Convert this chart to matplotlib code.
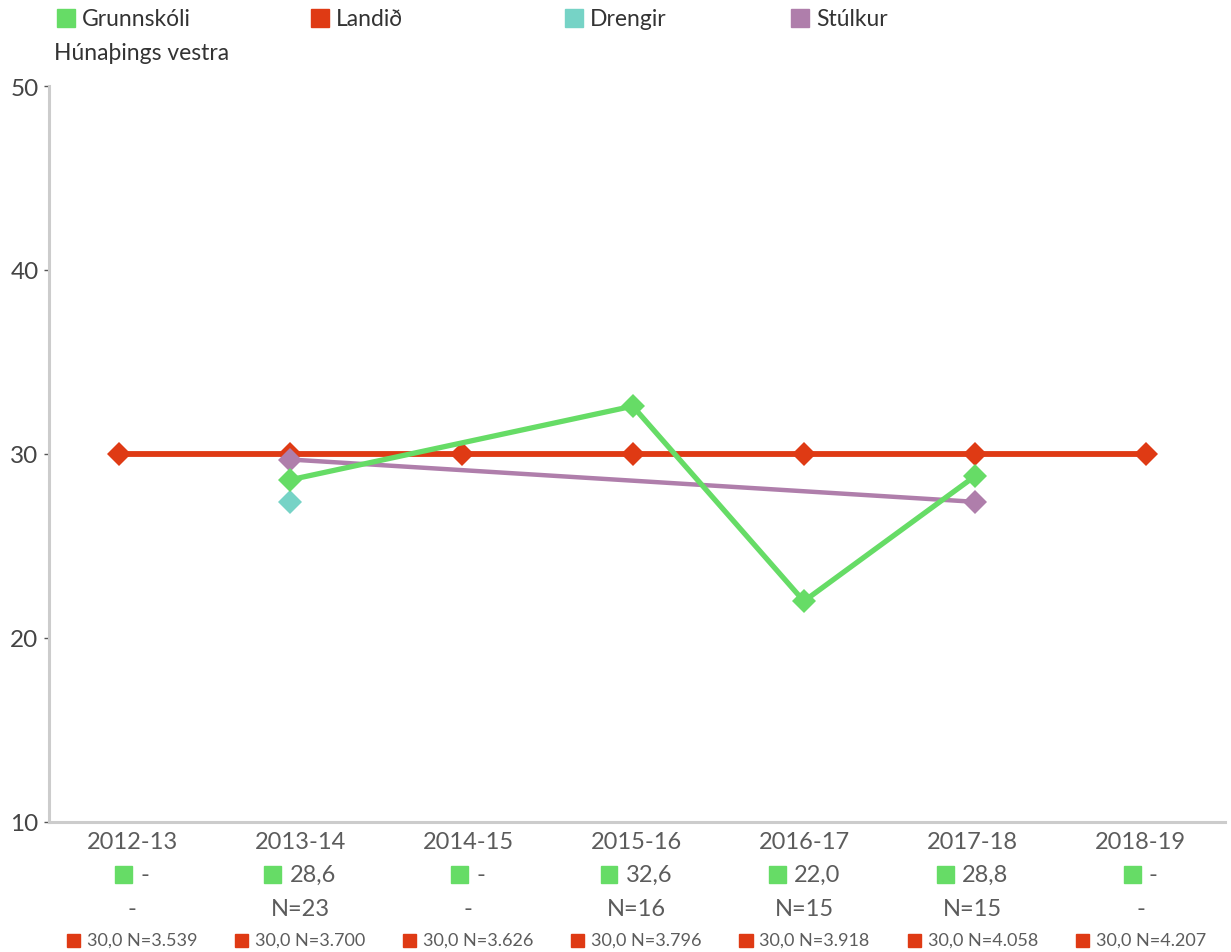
import matplotlib
matplotlib.use("Agg")
import matplotlib.pyplot as plt
import matplotlib.patches as patches
from matplotlib.offsetbox import AnnotationBbox, HPacker, TextArea, DrawingArea
import numpy as np

# --- data ---------------------------------------------------------------
years = ["2012-13", "2013-14", "2014-15", "2015-16", "2016-17", "2017-18", "2018-19"]
skoli = [np.nan, 28.6, np.nan, 32.6, 22.0, 28.8, np.nan]
landid = [30.0, 30.0, 30.0, 30.0, 30.0, 30.0, 30.0]
drengir = [np.nan, 27.4, np.nan, np.nan, np.nan, np.nan, np.nan]
stulkur = [np.nan, 29.7, np.nan, np.nan, np.nan, 27.4, np.nan]
skoli_labels = ["-", "28,6", "-", "32,6", "22,0", "28,8", "-"]
skoli_n = ["-", "N=23", "-", "N=16", "N=15", "N=15", "-"]
landid_labels = ["30,0 N=3.539", "30,0 N=3.700", "30,0 N=3.626", "30,0 N=3.796",
                 "30,0 N=3.918", "30,0 N=4.058", "30,0 N=4.207"]
series_names = ["Grunnskóli Húnaþings vestra", "Landið", "Drengir", "Stúlkur"]

GREEN = "#66dc66"
RED = "#df3a14"
TEAL = "#76d3c6"
PURPLE = "#af7eab"
FONT = ["Lato", "DejaVu Sans"]
GREY = "#5c5c5c"

W, H = 1231, 953
fig = plt.figure(figsize=(W / 100, H / 100), dpi=100)
ax = fig.add_axes([49 / W, 1 - 823 / H, (1225 - 49) / W, (823 - 87) / H])

x = np.arange(len(years))


def line(vals, color, lw, z):
    v = np.array(vals, dtype=float)
    m = ~np.isnan(v)
    ax.plot(x[m], v[m], color=color, lw=lw, marker="D", markersize=12.5,
            markeredgewidth=0, zorder=z, solid_joinstyle="miter")


line(landid, RED, 4.2, 2)
line(drengir, TEAL, 3.0, 3)
line(stulkur, PURPLE, 3.2, 4)
line(skoli, GREEN, 3.8, 5)

ax.set_ylim(10, 50)
ax.set_xlim(-0.41, 6.46)
ax.set_yticks([10, 20, 30, 40, 50])
ax.set_xticks([])
for s in ["top", "right"]:
    ax.spines[s].set_visible(False)
for s in ["left", "bottom"]:
    ax.spines[s].set_color("#cccccc")
    ax.spines[s].set_linewidth(2.2)
ax.tick_params(axis="y", length=3.5, width=1, color="#555555", pad=4,
               labelsize=17.5, labelcolor="#444444")
for lab in ax.get_yticklabels():
    lab.set_family(FONT)

# labels under the axis sit on a slightly narrower grid than the points
lab_x = x * 0.982 + 0.076
for i, xi in enumerate(lab_x):
    ax.annotate(years[i], (xi, 0), xycoords=("data", "axes fraction"),
                xytext=(0, -13.7), textcoords="offset points", ha="center",
                va="center", fontsize=17, color=GREY, family=FONT,
                annotation_clip=False)
    ax.annotate(skoli_n[i], (xi, 0), xycoords=("data", "axes fraction"),
                xytext=(0, -62.6), textcoords="offset points", ha="center",
                va="center", fontsize=17, color=GREY, family=FONT,
                annotation_clip=False)

    # green row
    da = DrawingArea(12.2, 12.2)
    da.add_artist(patches.Rectangle((0, 0), 12.2, 12.2, color=GREEN))
    ta = TextArea(skoli_labels[i], textprops=dict(color=GREY, fontsize=17, family=FONT))
    box = HPacker(children=[da, ta], sep=6, align="center", pad=0)
    ax.add_artist(AnnotationBbox(box, (xi, 0), xycoords=("data", "axes fraction"),
                                 xybox=(0, -38), boxcoords="offset points",
                                 frameon=False, pad=0, box_alignment=(0.5, 0.5),
                                 annotation_clip=False))
    # red row
    da = DrawingArea(9.4, 9.4)
    da.add_artist(patches.Rectangle((0, 0), 9.4, 9.4, color=RED))
    ta = TextArea(landid_labels[i], textprops=dict(color=GREY, fontsize=13, family=FONT))
    box = HPacker(children=[da, ta], sep=5, align="center", pad=0)
    ax.add_artist(AnnotationBbox(box, (xi, 0), xycoords=("data", "axes fraction"),
                                 xybox=(0, -85), boxcoords="offset points",
                                 frameon=False, pad=0, box_alignment=(0.5, 0.5),
                                 annotation_clip=False))

# legend drawn by hand (first label wraps onto a second line)
leg_x = [57, 311, 565, 791]
leg_c = [GREEN, RED, TEAL, PURPLE]
for lx, c, name in zip(leg_x, leg_c, series_names):
    fig.patches.append(patches.Rectangle((lx / W, 1 - 28 / H), 18 / W, 18 / H,
                                         color=c, transform=fig.transFigure))
    first = name.split(" ")[0]
    fig.text((lx + 25) / W, 1 - 19 / H, first, ha="left", va="center",
             fontsize=16.5, color="#333333", family=FONT)
fig.text(54 / W, 1 - 54 / H, " ".join(series_names[0].split(" ")[1:]), ha="left",
         va="center", fontsize=16.5, color="#333333", family=FONT)

fig.savefig("out.png", dpi=100, facecolor="white")
